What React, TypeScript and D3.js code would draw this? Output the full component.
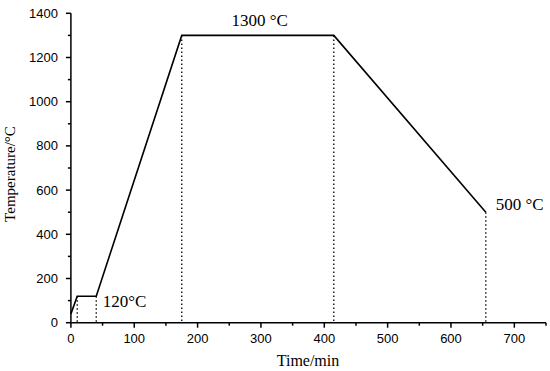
import React from "react";
import * as d3 from "d3";

const times = [0, 10, 40, 175, 415, 655];
const temps = [40, 120, 120, 1300, 1300, 500];
const dropTimes = [10, 40, 175, 415, 655];
const xMajor = [0, 100, 200, 300, 400, 500, 600, 700];
const xMinor = [50, 150, 250, 350, 450, 550, 650, 750];
const yMajor = [0, 200, 400, 600, 800, 1000, 1200, 1400];
const yMinor = [100, 300, 500, 700, 900, 1100, 1300];
const annotations = [
  { t: 298, v: 1300, text: "1300 °C", anchor: "middle", dx: 0, dy: -9 },
  { t: 40, v: 120, text: "120°C", anchor: "start", dx: 6.5, dy: 11 },
  { t: 655, v: 500, text: "500 °C", anchor: "start", dx: 10, dy: -2 },
];

export default function App() {
  const W = 550, H = 371;
  const x = d3.scaleLinear().domain([0, 750]).range([70.9, 546]);
  const y = d3.scaleLinear().domain([0, 1400]).range([322.7, 13.3]);
  const pts = times.map((t, i) => [t, temps[i]] as [number, number]);
  const line = d3.line<[number, number]>().x(d => x(d[0])).y(d => y(d[1]));
  const tickFont = "Arial, 'Liberation Sans', sans-serif";
  const serif = "'Liberation Serif', 'Times New Roman', serif";
  return (
    <svg width={W} height={H} style={{ position: "absolute", left: 0, top: 0, background: "#fff" }}>
      {dropTimes.map((t, i) => {
        const v = temps[times.indexOf(t)];
        return (
          <line key={i} x1={x(t)} x2={x(t)} y1={y(v)} y2={y(0)} stroke="#000" strokeWidth={1.3} strokeDasharray="1.6,2.4" />
        );
      })}
      <path d={line(pts) || ""} fill="none" stroke="#000" strokeWidth={1.6} />
      <line x1={x(0)} x2={x(750)} y1={y(0)} y2={y(0)} stroke="#000" strokeWidth={1.5} />
      {xMajor.map(t => (
        <g key={"xm" + t}>
          <line x1={x(t)} x2={x(t)} y1={y(0)} y2={y(0) + 5} stroke="#000" strokeWidth={1.5} />
          <text x={x(t)} y={y(0) + 20} textAnchor="middle" fontFamily={tickFont} fontSize={13}>{t}</text>
        </g>
      ))}
      {xMinor.map(t => (
        <line key={"xn" + t} x1={x(t)} x2={x(t)} y1={y(0)} y2={y(0) + 3} stroke="#000" strokeWidth={1.5} />
      ))}
      <line x1={x(0)} x2={x(0)} y1={y(0)} y2={y(1400)} stroke="#000" strokeWidth={1.5} />
      {yMajor.map(v => (
        <g key={"ym" + v}>
          <line x1={x(0) - 5} x2={x(0)} y1={y(v)} y2={y(v)} stroke="#000" strokeWidth={1.5} />
          <text x={x(0) - 13} y={y(v) + 4.5} textAnchor="end" fontFamily={tickFont} fontSize={13}>{v}</text>
        </g>
      ))}
      {yMinor.map(v => (
        <line key={"yn" + v} x1={x(0) - 3} x2={x(0)} y1={y(v)} y2={y(v)} stroke="#000" strokeWidth={1.5} />
      ))}
      <text x={308} y={366} textAnchor="middle" fontFamily={serif} fontSize={16}>Time/min</text>
      <text transform={`translate(15,174) rotate(-90)`} textAnchor="middle" fontFamily={serif} fontSize={15}>Temperature/°C</text>
      {annotations.map((a, i) => (
        <text key={i} x={x(a.t) + a.dx} y={y(a.v) + a.dy} textAnchor={a.anchor as any} fontFamily={serif} fontSize={17}>{a.text}</text>
      ))}
    </svg>
  );
}
